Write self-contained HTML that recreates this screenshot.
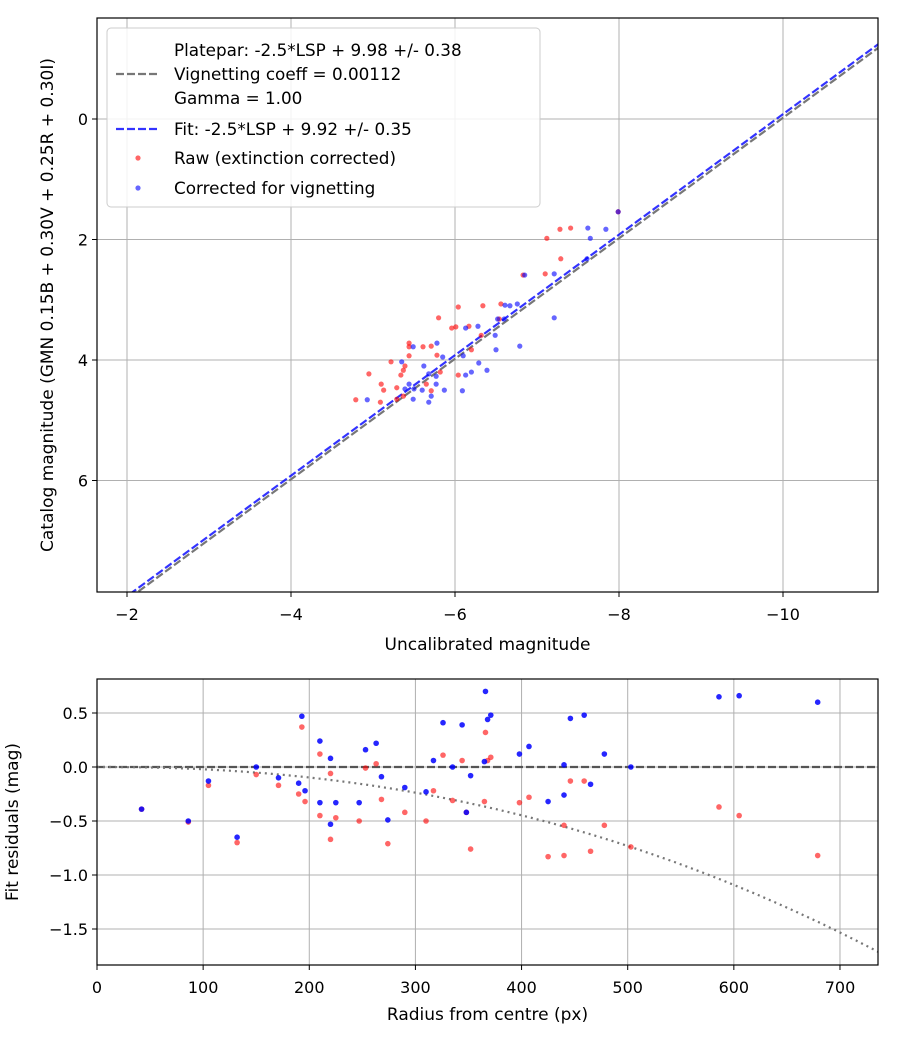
<!DOCTYPE html>
<html><head><meta charset="utf-8"><style>
body{margin:0;background:#fff;}
svg{font-family:"DejaVu Sans","Liberation Sans",sans-serif;}
</style></head><body>
<svg id="fig" width="900" height="1050" xmlns="http://www.w3.org/2000/svg">
<g id="top"></g>
<g id="bot"></g>
</svg>
<script>
// ---- top chart data ----
const rawX=[-7.99,-7.28,-7.41,-7.12,-7.29,-6.83,-7.10,-6.04,-6.34,-6.56,-5.80,-5.96,-6.01,-6.17,-6.32,-6.54,-5.44,-5.44,-5.61,-5.71,-5.44,-5.78,-6.20,-5.22,-5.39,-4.95,-5.37,-5.34,-5.82,-6.04,-5.10,-5.13,-5.29,-5.65,-5.71,-5.37,-5.29,-4.79,-5.09];
const rawY=[1.54,1.83,1.81,1.98,2.32,2.59,2.57,3.12,3.10,3.07,3.30,3.47,3.45,3.44,3.59,3.32,3.72,3.78,3.78,3.77,3.93,3.92,3.83,4.03,4.10,4.23,4.17,4.25,4.20,4.25,4.40,4.50,4.46,4.40,4.51,4.60,4.65,4.66,4.70];
const corX=[-7.99,-7.62,-7.84,-7.65,-7.61,-6.85,-7.21,-7.21,-6.61,-6.67,-6.76,-6.60,-6.52,-6.13,-6.28,-6.49,-6.79,-6.50,-5.78,-5.49,-5.85,-6.10,-5.35,-5.62,-6.29,-6.39,-6.20,-6.13,-5.68,-5.77,-5.44,-5.77,-5.39,-5.50,-5.60,-5.87,-6.09,-5.71,-5.49,-5.68,-4.93];
const corY=[1.54,1.81,1.83,1.98,2.32,2.59,2.57,3.30,3.09,3.10,3.07,3.32,3.32,3.47,3.44,3.59,3.77,3.83,3.72,3.78,3.95,3.93,4.03,4.10,4.05,4.17,4.20,4.25,4.23,4.27,4.40,4.40,4.48,4.48,4.50,4.50,4.51,4.60,4.65,4.70,4.66];
const topXTicks=[-2,-4,-6,-8,-10];
const topYTicks=[0,2,4,6];
const platepar=9.98, fitOffset=9.92;
// ---- residual chart data ----
const radius=[42,86,105,132,150,171,193,190,196,210,210,220,220,225,247,253,263,268,274,290,310,317,326,335,344,348,352,365,366,368,371,398,407,425,440,440,446,459,465,478,503,586,605,679];
const resBlue=[-0.39,-0.50,-0.13,-0.65,0.0,-0.10,0.47,-0.15,-0.22,0.24,-0.33,0.08,-0.53,-0.33,-0.33,0.16,0.22,-0.09,-0.49,-0.19,-0.23,0.06,0.41,0.0,0.39,-0.42,-0.08,0.05,0.70,0.44,0.48,0.12,0.19,-0.32,0.02,-0.26,0.45,0.48,-0.16,0.12,0.0,0.65,0.66,0.60];
const resRed=[-0.39,-0.51,-0.17,-0.70,-0.07,-0.17,0.37,-0.25,-0.32,0.12,-0.45,-0.06,-0.67,-0.47,-0.50,-0.01,0.03,-0.30,-0.71,-0.42,-0.50,-0.22,0.11,-0.31,0.06,-0.42,-0.76,-0.32,0.32,0.06,0.09,-0.33,-0.28,-0.83,-0.54,-0.82,-0.13,-0.13,-0.78,-0.54,-0.74,-0.37,-0.45,-0.82];
const botXTicks=[0,100,200,300,400,500,600,700];
const botYTicks=[0.5,0.0,-0.5,-1.0,-1.5];
const vignAmp=0.25, vignRef=307, vignPow=2.2;

const NS="http://www.w3.org/2000/svg";
function mk(parent,tag,attrs,text){const e=document.createElementNS(NS,tag);for(const k in attrs)e.setAttribute(k,attrs[k]);if(text!==undefined)e.textContent=text;parent.appendChild(e);return e;}

// ---- top ----
const T=document.getElementById('top');
const tL=97,tR=878,tT=18,tB=592;
const tx=v=>127-(v+2)*82;
const ty=v=>119+v*60.25;
mk(T,'clipPath',{id:'ct'});
mk(document.getElementById('ct'),'rect',{x:tL,y:tT,width:tR-tL,height:tB-tT});
topXTicks.forEach(v=>{
 const g=mk(T,'line',{x1:tx(v),x2:tx(v),y1:tT,y2:tB,stroke:'#b0b0b0','stroke-width':1});
 
 mk(T,'line',{x1:tx(v),x2:tx(v),y1:tB,y2:tB+5,stroke:'#000'});
 const t=mk(T,'text',{x:tx(v),y:tB+28,'text-anchor':'middle','font-size':16},(v<0?'\u2212'+(-v):v));
 
});
topYTicks.forEach(v=>{
 const g=mk(T,'line',{x1:tL,x2:tR,y1:ty(v),y2:ty(v),stroke:'#b0b0b0','stroke-width':1});
 
 mk(T,'line',{x1:tL-5,x2:tL,y1:ty(v),y2:ty(v),stroke:'#000'});
 const t=mk(T,'text',{x:tL-9,y:ty(v)+6,'text-anchor':'end','font-size':16},v);
 
});
const tg=mk(T,'g',{'clip-path':'url(#ct)'});
const xa=-1.6,xb=-11.2;
const pl=mk(tg,'line',{x1:tx(xa),y1:ty(xa+platepar),x2:tx(xb),y2:ty(xb+platepar),stroke:'#777','stroke-width':2.2,'stroke-dasharray':'8,3'});

const fl=mk(tg,'line',{x1:tx(xa),y1:ty(xa+fitOffset),x2:tx(xb),y2:ty(xb+fitOffset),stroke:'rgba(0,0,255,0.8)','stroke-width':2.2,'stroke-dasharray':'8,3'});

rawX.forEach((v,i)=>{const c=mk(tg,'circle',{cx:tx(v),cy:ty(rawY[i]),r:2.6,fill:'rgba(255,0,0,0.6)'});
 });
corX.forEach((v,i)=>{const c=mk(tg,'circle',{cx:tx(v),cy:ty(corY[i]),r:2.6,fill:'rgba(0,0,255,0.6)'});
 });
mk(T,'rect',{x:tL,y:tT,width:tR-tL,height:tB-tT,fill:'none',stroke:'#000','stroke-width':1.2});
let t=mk(T,'text',{x:(tL+tR)/2,y:650,'text-anchor':'middle','font-size':17},'Uncalibrated magnitude');

t=mk(T,'text',{x:0,y:0,'text-anchor':'middle','font-size':17,transform:'translate(53,305) rotate(-90)'},'Catalog magnitude (GMN 0.15B + 0.30V + 0.25R + 0.30I)');

// legend
const L=mk(T,'g',{});
mk(L,'rect',{x:107,y:28,width:433,height:179,rx:4,fill:'rgba(255,255,255,0.85)',stroke:'#ccc'});
const lg=[['none','Platepar: -2.5*LSP + 9.98 +/- 0.38',56],['gray','Vignetting coeff = 0.00112',80],['none','Gamma = 1.00',104],['blue','Fit: -2.5*LSP + 9.92 +/- 0.35',135],['rdot','Raw (extinction corrected)',164],['bdot','Corrected for vignetting',194]];
lg.forEach(e=>{
 const [k,s,y]=e;
 if(k==='gray')mk(L,'line',{x1:116,x2:160,y1:y-6,y2:y-6,stroke:'#777','stroke-width':2.2,'stroke-dasharray':'8,3'});
 if(k==='blue')mk(L,'line',{x1:116,x2:160,y1:y-6,y2:y-6,stroke:'rgba(0,0,255,0.8)','stroke-width':2.2,'stroke-dasharray':'8,3'});
 if(k==='rdot')mk(L,'circle',{cx:138,cy:y-6,r:2.6,fill:'rgba(255,0,0,0.6)'});
 if(k==='bdot')mk(L,'circle',{cx:138,cy:y-6,r:2.6,fill:'rgba(0,0,255,0.6)'});
 const tt=mk(L,'text',{x:174,y:y,'font-size':16.8},s);
 
});

// ---- bottom ----
const B=document.getElementById('bot');
const bL=97,bR=878,bT=679,bB=965;
const bx=v=>97+v*1.0614;
const by=v=>767-v*108;
mk(B,'clipPath',{id:'cb'});
mk(document.getElementById('cb'),'rect',{x:bL,y:bT,width:bR-bL,height:bB-bT});
botXTicks.forEach(v=>{
 const g=mk(B,'line',{x1:bx(v),x2:bx(v),y1:bT,y2:bB,stroke:'#b0b0b0'});
 
 mk(B,'line',{x1:bx(v),x2:bx(v),y1:bB,y2:bB+5,stroke:'#000'});
 const t=mk(B,'text',{x:bx(v),y:bB+28,'text-anchor':'middle','font-size':16},v);
 
});
botYTicks.forEach(v=>{
 const g=mk(B,'line',{x1:bL,x2:bR,y1:by(v),y2:by(v),stroke:'#b0b0b0'});
 
 mk(B,'line',{x1:bL-5,x2:bL,y1:by(v),y2:by(v),stroke:'#000'});
 const t=mk(B,'text',{x:bL-9,y:by(v)+6,'text-anchor':'end','font-size':16},(v<0?'\u2212'+(-v).toFixed(1):v.toFixed(1)));
 
});
const bg=mk(B,'g',{'clip-path':'url(#cb)'});
const zl=mk(bg,'line',{x1:bL,x2:bR,y1:by(0),y2:by(0),stroke:'#555','stroke-width':2.2,'stroke-dasharray':'8,3'});

let d='';for(let r=0;r<=740;r+=5){const m=-vignAmp*Math.pow(r/vignRef,vignPow);d+=(r?'L':'M')+bx(r).toFixed(1)+','+by(m).toFixed(1);}
const vc=mk(bg,'path',{d:d,fill:'none',stroke:'#777','stroke-width':2.2,'stroke-dasharray':'2,4'});

radius.forEach((r,i)=>{const c=mk(bg,'circle',{cx:bx(r),cy:by(resRed[i]),r:2.8,fill:'rgba(255,0,0,0.6)'});
 });
radius.forEach((r,i)=>{const c=mk(bg,'circle',{cx:bx(r),cy:by(resBlue[i]),r:2.8,fill:'rgba(0,0,255,0.85)'});
 });
mk(B,'rect',{x:bL,y:bT,width:bR-bL,height:bB-bT,fill:'none',stroke:'#000','stroke-width':1.2});
t=mk(B,'text',{x:(bL+bR)/2,y:1020,'text-anchor':'middle','font-size':17},'Radius from centre (px)');

t=mk(B,'text',{x:0,y:0,'text-anchor':'middle','font-size':17,transform:'translate(18,822) rotate(-90)'},'Fit residuals (mag)');

</script>
</body></html>
